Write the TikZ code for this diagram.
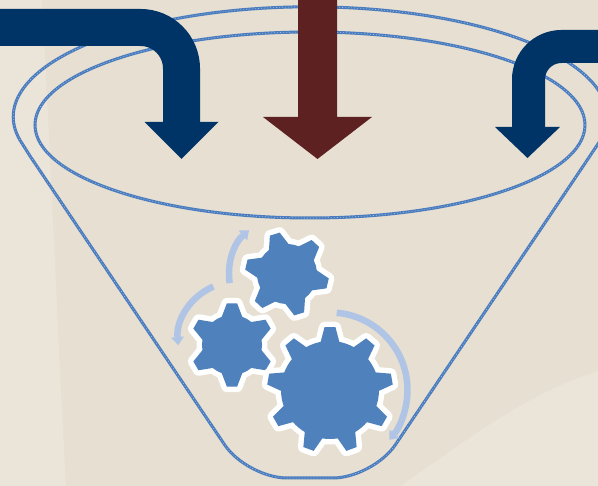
\documentclass[tikz,border=0pt]{standalone}
\usetikzlibrary{arrows.meta}

\definecolor{paper}{RGB}{230,223,210}
\definecolor{paperlight}{RGB}{234,228,217}
\definecolor{rimblue}{RGB}{74,124,190}
\definecolor{rimlight}{RGB}{160,190,230}
\definecolor{navy}{RGB}{0,51,102}
\definecolor{maroon}{RGB}{94,33,33}
\definecolor{gearblue}{RGB}{79,129,189}
\definecolor{spinblue}{RGB}{176,196,230}

% gear: centre, teeth, body radius, tip radius, half width at base, half width at tip, first tooth
\newcommand{\gear}[7]{%
  \begin{scope}[shift={(#1)}]
    \pgfmathsetmacro{\gearstep}{360/#2}
    \path[gear] ({#7-#5}:#3)
      \foreach \k in {1,...,#2}{
        -- ({#7+(\k-1)*\gearstep-#6}:#4) -- ({#7+(\k-1)*\gearstep+#6}:#4)
        -- ({#7+(\k-1)*\gearstep+#5}:#3)
        arc[start angle={#7+(\k-1)*\gearstep+#5}, delta angle={\gearstep-2*#5}, radius=#3]
      } -- cycle;
  \end{scope}}

\begin{document}
\begin{tikzpicture}[x=1pt,y=1pt]
        % Styles
        \tikzstyle{rim}=[draw=rimblue,line width=3pt,postaction={draw=rimlight,line width=0.6pt,dash pattern=on 1pt off 2pt}]
        \tikzstyle{gear}=[fill=gearblue,preaction={draw=white,line width=11pt,line join=round}]
        \tikzstyle{spin}=[draw=spinblue,line width=6.5pt,-{Triangle[width=13pt,length=8pt,line width=0pt]}]
        %The graphic
        \useasboundingbox (0,0) rectangle (598,486);
        \clip (0,0) rectangle (598,486);
        %background
        \fill[paper] (0,0) rectangle (598,486);
        \fill[paperlight] (0,0) -- (0,486) -- (42,486) .. controls (52,300) and (58,150) .. (66,0) -- cycle;
        \fill[paperlight] (400,0) .. controls (460,40) and (520,90) .. (598,115) -- (598,0) -- cycle;
        %funnel
        \draw[rim] (598,342) arc[start angle=-14.3,end angle=194.3,x radius=297,y radius=110]
            -- (30,330) [rounded corners=40pt] -- (247,8) -- (373,8) -- (590,330) [sharp corners] -- (598,342);
        \draw[rim] (310,361) ellipse[x radius=275,y radius=93];
        %gears
        \gear{287,212}{6}{30}{42}{20}{7}{107}
        \gear{232,141}{6}{30}{42}{20}{7}{90}
        \gear{330,96}{9}{49}{63}{11}{5}{90}
        %turning arrows
        \draw[spin] ([shift={(189:58)}]287,212) arc[start angle=189,end angle=131,radius=58];
        \draw[spin] ([shift={(113:58)}]236,146) arc[start angle=113,end angle=185,radius=58];
        \draw[spin] ([shift={(85:77.5)}]330,96) arc[start angle=85,end angle=-40,radius=77.5];
        %arrows in
        \draw[navy,line width=37pt] (-5,458.5) -- (140.5,458.5) arc[start angle=90,end angle=0,radius=41] -- (181.5,363);
        \fill[navy] (144.5,364) -- (218.5,364) -- (181.5,327) -- cycle;
        \fill[maroon] (298,490) -- (337,490) -- (337,369) -- (372,369) -- (317.5,327) -- (263,369) -- (298,369) -- cycle;
        \draw[navy,line width=33pt] (603,439.5) -- (561.5,439.5) arc[start angle=90,end angle=180,radius=33] -- (528.5,358);
        \fill[navy] (495,359) -- (560,359) -- (527.5,328) -- cycle;
\end{tikzpicture}
\end{document}
